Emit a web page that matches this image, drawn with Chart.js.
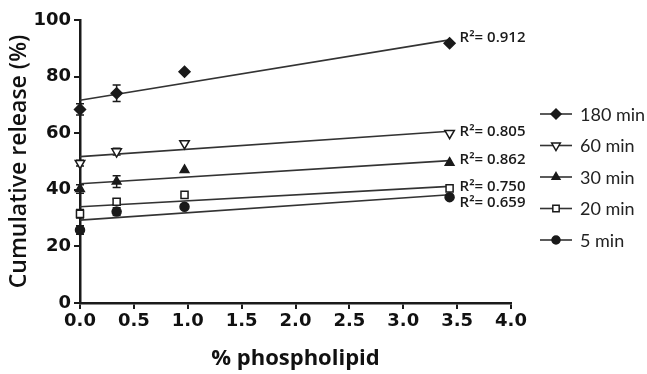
<!DOCTYPE html>
<html>
<head>
<meta charset="utf-8">
<script src="https://cdn.jsdelivr.net/npm/chart.js@4.4.1/dist/chart.umd.min.js"></script>
<style>
  html, body { margin: 0; padding: 0; background: #fff; }
  #wrap { width: 647px; height: 374px; }
</style>
</head>
<body>
<div id="wrap"><canvas id="chart" width="647" height="374"></canvas></div>
<script>
// phospholipid content (%) at which release was measured
const doses = [0, 0.34, 0.97, 3.43];

const seriesNames = ["180 min", "60 min", "30 min", "20 min", "5 min"];

// cumulative release (%) per time point
const release180 = [68.4, 74.1, 81.7, 91.8];
const release60 = [49.4, 53.5, 56.4, 60.0];
const release30 = [40.3, 42.9, 47.0, 49.6];
const release20 = [31.5, 35.8, 38.2, 40.5];
const release5 = [25.8, 32.3, 34.0, 37.4];

// error bar half-heights (SD)
const err180 = [2.0, 2.9, 0, 0];
const err60 = [1.0, 1.2, 0, 0];
const err30 = [1.5, 2.1, 0, 0];
const err20 = [1.5, 1.0, 0, 0];
const err5 = [1.5, 1.4, 0, 0];

const rSquared = ["0.912", "0.805", "0.862", "0.750", "0.659"];

const yTicks = [0, 20, 40, 60, 80, 100];
const xTicks = [0, 0.5, 1, 1.5, 2, 2.5, 3, 3.5, 4];

const INK = "#1a1a1a";
const LINE = "#333";

const allValues = [release180, release60, release30, release20, release5];
const allErrors = [err180, err60, err30, err20, err5];

// marker look for each series
const markers = [
  { pointStyle: "rectRot", radius: 5.5, fill: INK, rotation: 0 },
  { pointStyle: "triangle", radius: 5.5, fill: "#fff", rotation: 180 },
  { pointStyle: "triangle", radius: 5, fill: INK, rotation: 0 },
  { pointStyle: "rect", radius: 5, fill: "#fff", rotation: 0 },
  { pointStyle: "circle", radius: 4.5, fill: INK, rotation: 0 },
];

// least squares line through each series
function fit(xs, ys) {
  const n = xs.length;
  const mx = xs.reduce((a, b) => a + b, 0) / n;
  const my = ys.reduce((a, b) => a + b, 0) / n;
  let sxy = 0, sxx = 0;
  for (let i = 0; i < n; i++) {
    sxy += (xs[i] - mx) * (ys[i] - my);
    sxx += (xs[i] - mx) * (xs[i] - mx);
  }
  const slope = sxy / sxx;
  return { slope, intercept: my - slope * mx };
}

const pointSets = allValues.map((vals, i) => ({
  label: seriesNames[i],
  data: doses.map((x, j) => ({ x, y: vals[j] })),
  errors: allErrors[i],
  showLine: false,
  pointStyle: markers[i].pointStyle,
  pointRadius: markers[i].radius,
  pointRotation: markers[i].rotation,
  pointBackgroundColor: markers[i].fill,
  pointBorderColor: INK,
  pointBorderWidth: 1.5,
  clip: false,
}));

const lineSets = allValues.map((vals, i) => {
  const f = fit(doses, vals);
  const x0 = doses[0], x1 = doses[doses.length - 1];
  return {
    label: "fit " + seriesNames[i],
    data: [
      { x: x0, y: f.intercept + f.slope * x0 },
      { x: x1, y: f.intercept + f.slope * x1 },
    ],
    showLine: true,
    borderColor: LINE,
    borderWidth: 1.6,
    pointRadius: 0,
    clip: false,
  };
});

// vertical error bars with caps, under the markers
const errorBars = {
  id: "errorBars",
  beforeDatasetsDraw(chart) {
    const ctx = chart.ctx;
    const y = chart.scales.y;
    ctx.save();
    ctx.strokeStyle = INK;
    ctx.lineWidth = 1.5;
    chart.data.datasets.forEach((ds, di) => {
      if (!ds.errors) return;
      const meta = chart.getDatasetMeta(di);
      meta.data.forEach((pt, j) => {
        const e = ds.errors[j];
        if (!e) return;
        const v = ds.data[j].y;
        const top = y.getPixelForValue(v + e);
        const bot = y.getPixelForValue(v - e);
        ctx.beginPath();
        ctx.moveTo(pt.x, top);
        ctx.lineTo(pt.x, bot);
        ctx.moveTo(pt.x - 4, top);
        ctx.lineTo(pt.x + 4, top);
        ctx.moveTo(pt.x - 4, bot);
        ctx.lineTo(pt.x + 4, bot);
        ctx.stroke();
      });
    });
    ctx.restore();
  },
};

// R² next to the last point of each series
const labelShift = [-5, -1, -3, -2, 6];
const rLabels = {
  id: "rLabels",
  afterDatasetsDraw(chart) {
    const ctx = chart.ctx;
    ctx.save();
    ctx.fillStyle = INK;
    ctx.font = "600 15px 'Open Sans'";
    ctx.textBaseline = "middle";
    ctx.textAlign = "left";
    for (let i = 0; i < seriesNames.length; i++) {
      const meta = chart.getDatasetMeta(i);
      const pt = meta.data[meta.data.length - 1];
      ctx.fillText("R\u00B2= " + rSquared[i], pt.x + 10, pt.y + labelShift[i]);
    }
    ctx.restore();
  },
};

// legend on the right: short line with the marker in its middle
const sideLegend = {
  id: "sideLegend",
  afterDraw(chart) {
    const ctx = chart.ctx;
    ctx.save();
    const x0 = 540, x1 = 572, top = 114, step = 31.5;
    for (let i = 0; i < seriesNames.length; i++) {
      const yy = top + i * step;
      ctx.strokeStyle = LINE;
      ctx.lineWidth = 1.6;
      ctx.beginPath();
      ctx.moveTo(x0, yy);
      ctx.lineTo(x1, yy);
      ctx.stroke();
      const m = markers[i];
      ctx.fillStyle = m.fill;
      ctx.strokeStyle = INK;
      ctx.lineWidth = 1.5;
      Chart.helpers.drawPoint(ctx, {
        pointStyle: m.pointStyle,
        radius: m.radius - 0.5,
        rotation: m.rotation,
        borderWidth: 1.5,
      }, (x0 + x1) / 2, yy);
      ctx.fillStyle = "#222";
      ctx.font = "18px Lato";
      ctx.textBaseline = "middle";
      ctx.textAlign = "left";
      ctx.fillText(seriesNames[i], 580, yy + 1);
    }
    ctx.restore();
  },
};

const whiteBg = {
  id: "whiteBg",
  beforeDraw(chart) {
    const ctx = chart.ctx;
    ctx.save();
    ctx.fillStyle = "#fff";
    ctx.fillRect(0, 0, chart.width, chart.height);
    ctx.restore();
  },
};

const tickFont = { family: "'DejaVu Sans'", size: 18, weight: "bold" };

new Chart(document.getElementById("chart"), {
  type: "scatter",
  data: { datasets: [...pointSets, ...lineSets] },
  options: {
    responsive: false,
    animation: false,
    layout: { padding: { left: 0, top: 20, right: 136, bottom: 0 } },
    plugins: { legend: { display: false }, tooltip: { enabled: false } },
    scales: {
      x: {
        type: "linear",
        min: 0,
        max: 4,
        afterBuildTicks(scale) {
          scale.ticks = xTicks.map(v => ({ value: v }));
        },
        afterFit(scale) { scale.height = 71; },
        border: { display: true, color: INK, width: 2.5 },
        grid: { display: true, drawOnChartArea: false, drawTicks: true, tickLength: 6, color: INK, lineWidth: 2 },
        ticks: {
          color: "#111",
          font: tickFont,
          padding: 2,
          maxRotation: 0,
          callback: v => Number(v).toFixed(1),
        },
        title: {
          display: true,
          text: "% phospholipid",
          color: "#111",
          font: { family: "'Open Sans'", size: 22, weight: "bold" },
          padding: { top: 0, bottom: 2 },
        },
      },
      y: {
        min: 0,
        max: 100,
        afterBuildTicks(scale) {
          scale.ticks = yTicks.map(v => ({ value: v }));
        },
        afterFit(scale) { scale.width = 80; },
        border: { display: true, color: INK, width: 2.5 },
        grid: { display: true, drawOnChartArea: false, drawTicks: true, tickLength: 6, color: INK, lineWidth: 2 },
        ticks: { color: "#111", font: tickFont, padding: 3 },
        title: {
          display: true,
          text: "Cumulative release (%)",
          color: "#111",
          font: { family: "'Open Sans'", size: 23, weight: "600" },
          padding: { top: 6, bottom: 0 },
        },
      },
    },
  },
  plugins: [whiteBg, errorBars, rLabels, sideLegend],
});
</script>
</body>
</html>
